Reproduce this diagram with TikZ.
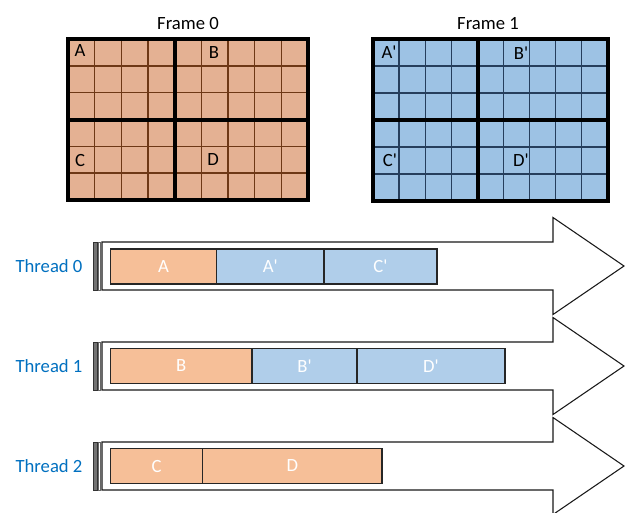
\documentclass[tikz,border=0pt]{standalone}
\usepackage{fontspec}
\setmainfont{Carlito}
\usetikzlibrary{positioning}
\definecolor{tileorange}{RGB}{228,177,147}
\definecolor{tileorangeline}{RGB}{110,56,22}
\definecolor{tileblue}{RGB}{157,194,228}
\definecolor{tileblueline}{RGB}{38,62,92}
\definecolor{segorange}{RGB}{246,191,152}
\definecolor{segblue}{RGB}{176,206,234}
\definecolor{threadblue}{RGB}{0,112,192}
\newcommand{\qs}{\textquotesingle}
\tikzset{
  seg/.style={draw=black!85,line width=1.1pt,minimum height=26.5pt,inner sep=0pt,outer sep=0pt,text=white},
  segold/.style={seg,fill=segorange},
  segnew/.style={seg,fill=segblue},
  quad/.style={draw=black,line width=3pt},
  threadlabel/.style={text=threadblue},
  lane/.style={draw=black!90,line width=.8pt,fill=white}
}

\begin{document}
\begin{tikzpicture}[x=.75pt,y=-.75pt,every node/.style={font=\fontsize{14}{17}\selectfont}]
    \useasboundingbox (0,0) rectangle (625,512);
    \fill[white] (0,0) rectangle (625,512);
    % frame 0
    \fill[tileorange] (68,39) rectangle (308,200);
    \foreach \i in {1,...,8}{\draw[tileorangeline,line width=1pt] ({68+\i*26.67},39) -- ({68+\i*26.67},200);}
    \foreach \j in {1,...,5}{\draw[tileorangeline,line width=1pt] (68,{39+\j*26.83}) -- (308,{39+\j*26.83});}
    \draw[quad] (68,39) rectangle (175,119.5); \draw[quad] (175,39) rectangle (308,119.5);
    \draw[quad] (68,119.5) rectangle (175,200); \draw[quad] (175,119.5) rectangle (308,200);
    \node (frame0) at (188,24) {Frame 0};
    \node (fa) at (80,51) {A}; \node (fb) at (214,53) {B};
    \node (fc) at (80,160) {C}; \node (fd) at (213,160) {D};
    % frame 1
    \fill[tileblue] (373,39) rectangle (608,201);
    \foreach \i in {1,...,8}{\draw[tileblueline,line width=1pt] ({373+\i*26.1},39) -- ({373+\i*26.1},201);}
    \foreach \j in {1,...,5}{\draw[tileblueline,line width=1pt] (373,{39+\j*27}) -- (608,{39+\j*27});}
    \draw[quad] (373,39) rectangle (477.5,120); \draw[quad] (477.5,39) rectangle (608,120);
    \draw[quad] (373,120) rectangle (477.5,201); \draw[quad] (477.5,120) rectangle (608,201);
    \node (frame1) at (488,24) {Frame 1};
    \node (fap) at (389,52) {A\qs}; \node (fbp) at (521,53) {B\qs};
    \node (fcp) at (390,160) {C\qs}; \node (fdp) at (521,160) {D\qs};
    % threads
    \foreach \t [evaluate=\t as \cy using 266+100*\t] in {0,1,2}{
      \draw[lane] (102,\cy-24) -- (553,\cy-24) -- (553,\cy-48.5) -- (624,\cy)
        -- (553,\cy+48.5) -- (553,\cy+24) -- (102,\cy+24) -- cycle;
      \draw[black!80,fill=black!55,line width=.6pt] (93,\cy-24) rectangle (97,\cy+24);
      \draw[black!60,fill=white,line width=.6pt] (98.5,\cy-24) rectangle (100.5,\cy+24);
      \node[threadlabel] (thread\t) at (49,\cy) {Thread \t};
    }
    \node[segold,minimum width=106*.75pt,anchor=west] (a) at (110.5,266.5) {A};
    \node[segnew,minimum width=107.5*.75pt,right=0pt of a] (ap) {A\qs};
    \node[segnew,minimum width=113*.75pt,right=0pt of ap] (cp) {C\qs};
    \node[segold,minimum width=141.5*.75pt,anchor=west] (b) at (110.5,366) {B};
    \node[segnew,minimum width=105*.75pt,right=0pt of b] (bp) {B\qs};
    \node[segnew,minimum width=148*.75pt,right=0pt of bp] (dp) {D\qs};
    \node[segold,minimum width=92*.75pt,anchor=west] (c) at (110.5,466) {C};
    \node[segold,minimum width=179.5*.75pt,right=0pt of c] (d) {D};
  \end{tikzpicture}
\end{document}
